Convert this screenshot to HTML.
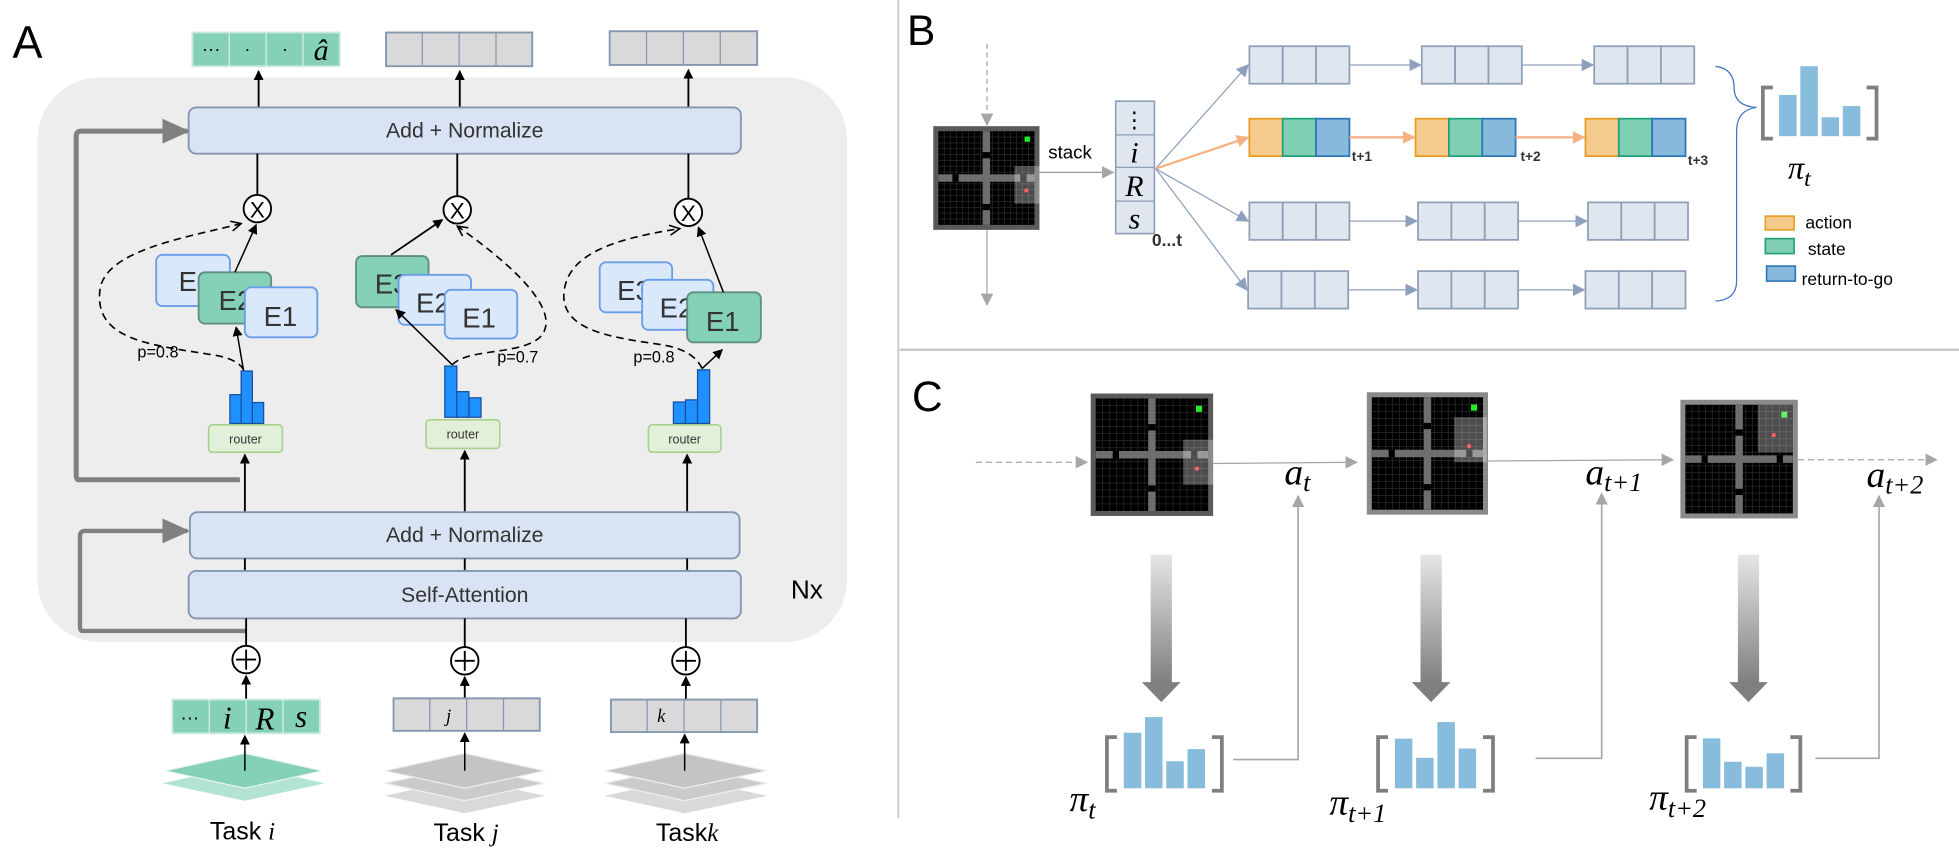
<!DOCTYPE html>
<html><head><meta charset="utf-8">
<style>
html,body{margin:0;padding:0;background:#fff;}
svg{display:block;}
text{font-family:"Liberation Sans","DejaVu Sans",sans-serif;}
.it{font-family:"Liberation Serif","DejaVu Serif",serif;font-style:italic;}
</style></head>
<body>
<svg id="fig" width="1959" height="857" viewBox="0 0 1568 686" preserveAspectRatio="none" xmlns="http://www.w3.org/2000/svg">
<defs>
<marker id="ab" markerWidth="8" markerHeight="8" refX="7" refY="4" orient="auto" markerUnits="userSpaceOnUse"><path d="M0,0 L8,4 L0,8 Z" fill="#000"/></marker>
<marker id="ao" markerWidth="10" markerHeight="10" refX="9" refY="5" orient="auto" markerUnits="userSpaceOnUse"><path d="M1,1 L9,5 L1,9" fill="none" stroke="#000" stroke-width="1.3"/></marker>
<marker id="ag" markerWidth="10" markerHeight="10" refX="9" refY="5" orient="auto" markerUnits="userSpaceOnUse"><path d="M0,0 L10,5 L0,10 Z" fill="#a6a6a6"/></marker>
<marker id="agb" markerWidth="22" markerHeight="20" refX="20" refY="10" orient="auto" markerUnits="userSpaceOnUse"><path d="M0,0 L22,10 L0,20 Z" fill="#808080"/></marker>
<marker id="abl" markerWidth="10" markerHeight="10" refX="9" refY="5" orient="auto" markerUnits="userSpaceOnUse"><path d="M0,0 L10,5 L0,10 Z" fill="#8ea0bd"/></marker>
<marker id="aor" markerWidth="10" markerHeight="10" refX="9" refY="5" orient="auto" markerUnits="userSpaceOnUse"><path d="M0,0 L10,5 L0,10 Z" fill="#f4b183"/></marker>
<linearGradient id="gd" x1="0" y1="0" x2="0" y2="1"><stop offset="0" stop-color="#e6e6e6"/><stop offset="1" stop-color="#7f7f7f"/></linearGradient>
</defs>

<line x1="719" y1="0" x2="719" y2="655" stroke="#c8c8c8" stroke-width="1.5"/>
<line x1="720" y1="280" x2="1568" y2="280" stroke="#c8c8c8" stroke-width="2"/>

<g>
<text x="10" y="46" font-size="36">A</text>
<rect x="30" y="62" width="648" height="452" rx="50" fill="#ededed"/>

<g>
<rect x="154" y="26" width="118" height="27" fill="#84d1b8" stroke="#c9e9de" stroke-width="1.5"/>
<line x1="183.5" y1="26" x2="183.5" y2="53" stroke="#d8f0e8"/><line x1="213" y1="26" x2="213" y2="53" stroke="#d8f0e8"/><line x1="242.5" y1="26" x2="242.5" y2="53" stroke="#d8f0e8"/>
<text x="169" y="44" font-size="15" text-anchor="middle">···</text>
<text x="198" y="44" font-size="15" text-anchor="middle">·</text>
<text x="228" y="44" font-size="15" text-anchor="middle">·</text>
<text x="257" y="48" font-size="24" text-anchor="middle" class="it">â</text>
</g>
<g>
<rect x="309" y="26" width="117" height="27" fill="#d9d9d9" stroke="#8497b0" stroke-width="1.5"/>
<line x1="338" y1="26" x2="338" y2="53" stroke="#8497b0"/><line x1="367.5" y1="26" x2="367.5" y2="53" stroke="#8497b0"/><line x1="397" y1="26" x2="397" y2="53" stroke="#8497b0"/>
</g>
<g>
<rect x="488" y="25" width="118" height="27" fill="#d9d9d9" stroke="#8497b0" stroke-width="1.5"/>
<line x1="517.5" y1="25" x2="517.5" y2="52" stroke="#8497b0"/><line x1="547" y1="25" x2="547" y2="52" stroke="#8497b0"/><line x1="576.5" y1="25" x2="576.5" y2="52" stroke="#8497b0"/>
</g>

<g stroke="#000" stroke-width="1.5" marker-end="url(#ab)">
<line x1="207" y1="86" x2="207" y2="57"/><line x1="368" y1="86" x2="368" y2="57"/><line x1="551" y1="86" x2="551" y2="56"/>
</g>

<rect x="151" y="86" width="442" height="37" rx="6" fill="#dae3f3" stroke="#8497b0" stroke-width="1.5"/>
<text x="372" y="110" font-size="17" text-anchor="middle" fill="#333">Add + Normalize</text>

<g stroke="#000" stroke-width="1.5">
<line x1="206" y1="123" x2="206" y2="156"/><line x1="366" y1="123" x2="366" y2="157"/><line x1="551" y1="123" x2="551" y2="159"/>
</g>

<path d="M192,384 L63,384 Q61,384 61,380 L61,109 Q61,105 65,105 L150,105" fill="none" stroke="#808080" stroke-width="4" marker-end="url(#agb)"/>
<path d="M197,505 L66,505 Q64,505 64,501 L64,429 Q64,425 68,425 L150,425" fill="none" stroke="#808080" stroke-width="3.5" marker-end="url(#agb)"/>

<g>
<rect x="125" y="204" width="59" height="41" rx="5" fill="#dae8fc" stroke="#6b9ee8" stroke-width="1.5"/>
<text x="143" y="233" font-size="22" fill="#333">E3</text>
<rect x="159" y="218" width="58" height="41" rx="5" fill="#84d1b8" stroke="#5f8f80" stroke-width="1.5"/>
<text x="175" y="248" font-size="22" fill="#333">E2</text>
<rect x="196" y="230" width="58" height="40" rx="5" fill="#dae8fc" stroke="#6b9ee8" stroke-width="1.5"/>
<text x="211" y="261" font-size="22" fill="#333">E1</text>
</g>
<g>
<rect x="285" y="205" width="58" height="41" rx="5" fill="#84d1b8" stroke="#5f8f80" stroke-width="1.5"/>
<text x="300" y="235" font-size="22" fill="#333">E3</text>
<rect x="319" y="220" width="58" height="40" rx="5" fill="#dae8fc" stroke="#6b9ee8" stroke-width="1.5"/>
<text x="333" y="250" font-size="22" fill="#333">E2</text>
<rect x="356" y="232" width="58" height="39" rx="5" fill="#dae8fc" stroke="#6b9ee8" stroke-width="1.5"/>
<text x="370" y="262" font-size="22" fill="#333">E1</text>
</g>
<g>
<rect x="480" y="210" width="58" height="40" rx="5" fill="#dae8fc" stroke="#6b9ee8" stroke-width="1.5"/>
<text x="494" y="240" font-size="22" fill="#333">E3</text>
<rect x="514" y="224" width="57" height="40" rx="5" fill="#dae8fc" stroke="#6b9ee8" stroke-width="1.5"/>
<text x="528" y="254" font-size="22" fill="#333">E2</text>
<rect x="550" y="234" width="59" height="40" rx="5" fill="#84d1b8" stroke="#5f8f80" stroke-width="1.5"/>
<text x="565" y="265" font-size="22" fill="#333">E1</text>
</g>

<g fill="#fff" stroke="#000" stroke-width="1.5">
<circle cx="206" cy="167" r="11"/><circle cx="366" cy="168" r="11"/><circle cx="551" cy="170" r="11"/>
</g>
<g font-size="18" text-anchor="middle"><text x="206" y="174">X</text><text x="366" y="175">X</text><text x="551" y="177">X</text></g>

<line x1="195" y1="297" x2="189" y2="262" stroke="#000" stroke-width="1.2" marker-end="url(#ab)"/>
<line x1="188" y1="218" x2="205" y2="180" stroke="#000" stroke-width="1.2" marker-end="url(#ab)"/>
<path d="M195,296 Q190,287 170,284 C120,276 75,272 80,232 C84,200 150,190 193,179" fill="none" stroke="#000" stroke-width="1.3" stroke-dasharray="6,4" marker-end="url(#ao)"/>
<text x="110" y="286" font-size="13">p=0.8</text>
<line x1="362" y1="292" x2="317" y2="248" stroke="#000" stroke-width="1.2" marker-end="url(#ab)"/>
<line x1="313" y1="204" x2="354" y2="176" stroke="#000" stroke-width="1.4" marker-end="url(#ab)"/>
<path d="M362,292 C375,278 420,285 434,268 C450,245 400,205 366,181" fill="none" stroke="#000" stroke-width="1.3" stroke-dasharray="6,4" marker-end="url(#ao)"/>
<text x="398" y="290" font-size="13">p=0.7</text>
<line x1="562" y1="295" x2="578" y2="280" stroke="#000" stroke-width="1.2" marker-end="url(#ab)"/>
<line x1="579" y1="234" x2="559" y2="182" stroke="#000" stroke-width="1.2" marker-end="url(#ab)"/>
<path d="M562,295 Q555,280 530,276 C490,270 445,265 452,230 C458,200 500,190 544,183" fill="none" stroke="#000" stroke-width="1.3" stroke-dasharray="6,4" marker-end="url(#ao)"/>
<text x="507" y="290" font-size="13">p=0.8</text>

<g id="routerHists"></g>

<g>
<rect x="167" y="340" width="59" height="22" rx="3" fill="#e2f0d9" stroke="#a9d18e" stroke-width="1.3"/>
<text x="196.5" y="355" font-size="10" text-anchor="middle" fill="#333">router</text>
<rect x="341" y="336" width="59" height="23" rx="3" fill="#e2f0d9" stroke="#a9d18e" stroke-width="1.3"/>
<text x="370.5" y="351" font-size="10" text-anchor="middle" fill="#333">router</text>
<rect x="519" y="340" width="58" height="22" rx="3" fill="#e2f0d9" stroke="#a9d18e" stroke-width="1.3"/>
<text x="548" y="355" font-size="10" text-anchor="middle" fill="#333">router</text>
</g>
<g stroke="#000" stroke-width="1.5" marker-end="url(#ab)">
<line x1="196" y1="410" x2="196" y2="364"/><line x1="372" y1="410" x2="372" y2="361"/><line x1="550" y1="410" x2="550" y2="364"/>
</g>

<rect x="152" y="410" width="440" height="37" rx="6" fill="#dae3f3" stroke="#8497b0" stroke-width="1.5"/>
<text x="372" y="434" font-size="17" text-anchor="middle" fill="#333">Add + Normalize</text>
<g stroke="#000" stroke-width="1.5"><line x1="196" y1="447" x2="196" y2="457"/><line x1="372" y1="447" x2="372" y2="457"/><line x1="550" y1="447" x2="550" y2="457"/></g>
<rect x="151" y="457" width="442" height="38" rx="6" fill="#dae3f3" stroke="#8497b0" stroke-width="1.5"/>
<text x="372" y="482" font-size="17" text-anchor="middle" fill="#333">Self-Attention</text>
<text x="633" y="479" font-size="21">Nx</text>

<g stroke="#000" stroke-width="1.5">
<line x1="197" y1="495" x2="197" y2="517"/><line x1="372" y1="495" x2="372" y2="518"/><line x1="549" y1="495" x2="549" y2="518"/>
</g>
<g fill="#fff" stroke="#000" stroke-width="1.5">
<circle cx="197" cy="528" r="11"/><circle cx="372" cy="529" r="11"/><circle cx="549" cy="529" r="11"/>
<path d="M189,528 H205 M197,520 V536 M364,529 H380 M372,521 V537 M541,529 H557 M549,521 V537"/>
</g>
<g stroke="#000" stroke-width="1.5" marker-end="url(#ab)">
<line x1="197" y1="560" x2="197" y2="541"/><line x1="372" y1="559" x2="372" y2="542"/><line x1="549" y1="560" x2="549" y2="542"/>
</g>

<g>
<rect x="138" y="560" width="118" height="27" fill="#84d1b8" stroke="#c9e9de" stroke-width="1.5"/>
<line x1="167.5" y1="560" x2="167.5" y2="587" stroke="#d8f0e8"/><line x1="197" y1="560" x2="197" y2="587" stroke="#d8f0e8"/><line x1="226.5" y1="560" x2="226.5" y2="587" stroke="#d8f0e8"/>
<text x="152" y="579" font-size="15" text-anchor="middle">···</text>
<text x="182" y="583" font-size="25" text-anchor="middle" class="it">i</text>
<text x="212" y="584" font-size="25" text-anchor="middle" class="it">R</text>
<text x="241" y="582" font-size="25" text-anchor="middle" class="it">s</text>
</g>
<g>
<rect x="315" y="559" width="117" height="26" fill="#d9d9d9" stroke="#8497b0" stroke-width="1.5"/>
<line x1="344" y1="559" x2="344" y2="585" stroke="#8497b0"/><line x1="373.5" y1="559" x2="373.5" y2="585" stroke="#8497b0"/><line x1="403" y1="559" x2="403" y2="585" stroke="#8497b0"/>
<text x="357" y="578" font-size="15" class="it">j</text>
</g>
<g>
<rect x="489" y="560" width="117" height="26" fill="#d9d9d9" stroke="#8497b0" stroke-width="1.5"/>
<line x1="518" y1="560" x2="518" y2="586" stroke="#8497b0"/><line x1="547.5" y1="560" x2="547.5" y2="586" stroke="#8497b0"/><line x1="577" y1="560" x2="577" y2="586" stroke="#8497b0"/>
<text x="526" y="578" font-size="15" class="it">k</text>
</g>

<g>
<path d="M130,627 L196,613 L260,627 L196,641 Z" fill="#9fdcc8" opacity="0.8"/>
<path d="M132,617 L196,603 L258,617 L196,631 Z" fill="#84d1b8" stroke="#e8f5f0"/>
</g>
<g>
<path d="M308,637 L372,623 L436,637 L372,651 Z" fill="#d0d0d0" opacity="0.8"/>
<path d="M308,627 L372,613 L436,627 L372,641 Z" fill="#cbcbcb" stroke="#eee"/>
<path d="M308,617 L372,603 L436,617 L372,631 Z" fill="#c4c4c4" stroke="#eee"/>
</g>
<g>
<path d="M484,637 L548,623 L614,637 L548,651 Z" fill="#d0d0d0" opacity="0.8"/>
<path d="M484,627 L548,613 L614,627 L548,641 Z" fill="#cbcbcb" stroke="#eee"/>
<path d="M484,617 L548,603 L614,617 L548,631 Z" fill="#c4c4c4" stroke="#eee"/>
</g>
<g stroke="#000" stroke-width="1.2" marker-end="url(#ab)">
<line x1="196" y1="617" x2="196" y2="589"/><line x1="372" y1="617" x2="372" y2="587"/><line x1="548" y1="617" x2="548" y2="588"/>
</g>
<text x="168" y="672" font-size="20">Task <tspan class="it">i</tspan></text>
<text x="347" y="673" font-size="20">Task <tspan class="it">j</tspan></text>
<text x="525" y="673" font-size="20">Task<tspan class="it">k</tspan></text>
</g>

<g>
<text x="726" y="36" font-size="34">B</text>
<line x1="790" y1="35" x2="790" y2="100" stroke="#a6a6a6" stroke-width="1" stroke-dasharray="4,3" marker-end="url(#ag)"/>
<line x1="790" y1="184" x2="790" y2="244" stroke="#a6a6a6" stroke-width="1" marker-end="url(#ag)"/>
<g id="mazeB"></g>
<text x="839" y="127" font-size="15">stack</text>
<line x1="832" y1="138" x2="891" y2="138" stroke="#a6a6a6" stroke-width="1.2" marker-end="url(#ag)"/>
<g>
<rect x="893" y="81" width="31" height="106" fill="#dfe6ef" stroke="#8e9fb8" stroke-width="1.3"/>
<line x1="893" y1="108" x2="924" y2="108" stroke="#8e9fb8"/><line x1="893" y1="134" x2="924" y2="134" stroke="#8e9fb8"/><line x1="893" y1="161" x2="924" y2="161" stroke="#8e9fb8"/>
<text x="908" y="102" font-size="18" text-anchor="middle">⋮</text>
<text x="908" y="130" font-size="24" text-anchor="middle" class="it">i</text>
<text x="908" y="157" font-size="24" text-anchor="middle" class="it">R</text>
<text x="908" y="183" font-size="24" text-anchor="middle" class="it">s</text>
</g>
<text x="922" y="197" font-size="14" font-weight="bold" fill="#333">0...t</text>
<g id="seqB"></g>
<g font-size="11" font-weight="bold" fill="#333">
<text x="1082" y="129">t+1</text><text x="1217" y="129">t+2</text><text x="1351" y="132">t+3</text>
</g>
<path d="M1373,53 Q1388,55 1388,70 Q1388,85 1406,86 Q1390,88 1390,105 L1390,225 Q1390,240 1373,241" fill="none" stroke="#4472c4" stroke-width="1"/>
<g id="histB"></g>
<text x="1431" y="143" font-size="26" class="it">π<tspan font-size="19" dy="6">t</tspan></text>
<g>
<rect x="1413" y="173" width="23" height="11" fill="#f5cb8d" stroke="#e69b21" stroke-width="1.3"/>
<text x="1445" y="183" font-size="14">action</text>
<rect x="1413" y="191" width="23" height="12" fill="#80cfb5" stroke="#1fa079" stroke-width="1.3"/>
<text x="1447" y="204" font-size="14">state</text>
<rect x="1414" y="213" width="23" height="12" fill="#87b9dc" stroke="#2f75b5" stroke-width="1.3"/>
<text x="1442" y="228" font-size="14">return-to-go</text>
</g>
</g>

<g>
<text x="730" y="329" font-size="34">C</text>
<line x1="781" y1="370" x2="870" y2="370" stroke="#a6a6a6" stroke-width="1" stroke-dasharray="5,3" marker-end="url(#ag)"/>
<line x1="971" y1="371" x2="1086" y2="370" stroke="#a6a6a6" stroke-width="1" marker-end="url(#ag)"/>
<line x1="1191" y1="369" x2="1339" y2="368" stroke="#a6a6a6" stroke-width="1" marker-end="url(#ag)"/>
<line x1="1439" y1="368" x2="1550" y2="368" stroke="#a6a6a6" stroke-width="1" stroke-dasharray="5,3" marker-end="url(#ag)"/>
<g id="mazeC"></g>
<text x="1028" y="388" font-size="30" class="it">a<tspan font-size="21" dy="5">t</tspan></text>
<text x="1269" y="388" font-size="30" class="it">a<tspan font-size="21" dy="5">t+1</tspan></text>
<text x="1494" y="390" font-size="30" class="it">a<tspan font-size="21" dy="5">t+2</tspan></text>
<g>
<g fill="url(#gd)">
<rect x="921" y="444" width="17" height="103"/><rect x="1137" y="444" width="17" height="103"/><rect x="1391" y="444" width="17" height="103"/>
</g>
<g fill="#7f7f7f">
<path d="M914,546 L945,546 L929.5,562 Z"/><path d="M1130,546 L1161,546 L1145.5,562 Z"/><path d="M1384,546 L1415,546 L1399.5,562 Z"/>
</g>
</g>
<g id="histC"></g>
<g fill="none" stroke="#a6a6a6" stroke-width="1.3">
<path d="M987,608 H1039 V397" marker-end="url(#ag)"/>
<path d="M1229,607 H1282 V395" marker-end="url(#ag)"/>
<path d="M1453,607 H1504 V397" marker-end="url(#ag)"/>
</g>
<text x="856" y="649" font-size="30" class="it">π<tspan font-size="21" dy="6">t</tspan></text>
<text x="1064" y="652" font-size="30" class="it">π<tspan font-size="21" dy="6">t+1</tspan></text>
<text x="1320" y="648" font-size="30" class="it">π<tspan font-size="21" dy="6">t+2</tspan></text>
</g>
</svg>
<script>
// ---- chart data ----
const routerCats = ['E1','E2','E3'];
const routerI = [0.55, 1.0, 0.4];
const routerJ = [1.0, 0.5, 0.38];
const routerK = [0.4, 0.44, 1.0];
const policyCats = ['a1','a2','a3','a4'];
const policyB = [0.59, 1.0, 0.27, 0.43];
const policyT = [0.78, 1.0, 0.38, 0.55];
const policyT1 = [0.75, 0.46, 1.0, 0.6];
const policyT2 = [1.0, 0.53, 0.43, 0.7];

const NS = 'http://www.w3.org/2000/svg';
function mk(tag, attrs, parent){ const e=document.createElementNS(NS,tag); for(const k in attrs) e.setAttribute(k,attrs[k]); parent.appendChild(e); return e; }

function routerHist(parent, vals, x0, base, w, hmax, name){
  const g=mk('g',{},parent);
  
  
  const bw=w/vals.length;
  vals.forEach((v,i)=>{
    const h=v*hmax;
    const r=mk('rect',{x:x0+i*bw,y:base-h,width:bw,height:h,fill:'#1e90ff',stroke:'#1a4f9c','stroke-width':1},g);
    
    
  });
}
const rh=document.getElementById('routerHists');
routerHist(rh, routerI, 184, 339, 27, 42, 'router-hist-task-i');
routerHist(rh, routerJ, 356, 334, 29, 41, 'router-hist-task-j');
routerHist(rh, routerK, 539, 339, 29, 43, 'router-hist-task-k');

function policyHist(parent, vals, xl, xr, top, btop, base, name, bw, gap){
  const g=mk('g',{},parent);
  
  
  mk('path',{d:'M'+(xl+8)+','+btop+' H'+xl+' V'+base+' H'+(xl+8),fill:'none',stroke:'#7f7f7f','stroke-width':3},g);
  mk('path',{d:'M'+(xr-8)+','+btop+' H'+xr+' V'+base+' H'+(xr-8),fill:'none',stroke:'#7f7f7f','stroke-width':3},g);
  const hmax=base-top-2;
  const total=vals.length*bw+(vals.length-1)*gap;
  const start=xl+(xr-xl-total)/2;
  vals.forEach((v,i)=>{
    const h=v*hmax;
    const r=mk('rect',{x:start+i*(bw+gap),y:base-2-h,width:bw,height:h,fill:'#87bcdc'},g);
    
    
  });
}
policyHist(document.getElementById('histB'), policyB, 1411, 1502, 53, 70, 111, 'policy-hist-b', 14, 3);
const hc=document.getElementById('histC');
policyHist(hc, policyT, 886, 978, 574, 590, 633, 'policy-hist-t', 14, 3);
policyHist(hc, policyT1, 1103, 1195, 578, 590, 633, 'policy-hist-t1', 14, 3);
policyHist(hc, policyT2, 1350, 1441, 591, 590, 633, 'policy-hist-t2', 14, 3);

function maze(parent, x, y, w, h, border, name, view){
  const g=mk('g',{},parent);
  
  
  mk('rect',{x:x,y:y,width:w,height:h,fill:border},g);
  const b=4;
  mk('rect',{x:x+b,y:y+b,width:w-2*b,height:h-2*b,fill:'#000'},g);
  let d='';
  const n=16;
  for(let i=1;i<n;i++){ const xx=x+b+i*(w-2*b)/n; d+='M'+xx+','+(y+b)+'V'+(y+h-b); const yy=y+b+i*(h-2*b)/n; d+='M'+(x+b)+','+yy+'H'+(x+w-b); }
  mk('path',{d:d,stroke:'#2a2a2a','stroke-width':0.6,fill:'none'},g);
  const cx=x+w*0.5, cy=y+h*0.5;
  mk('rect',{x:cx-3,y:y+b,width:6,height:h-2*b,fill:'#6e6e6e'},g);
  mk('rect',{x:x+b,y:cy-3,width:w-2*b,height:6,fill:'#6e6e6e'},g);
  mk('rect',{x:cx-3,y:y+h*0.25,width:6,height:5,fill:'#000'},g);
  mk('rect',{x:cx-3,y:y+h*0.75,width:6,height:5,fill:'#000'},g);
  mk('rect',{x:x+w*0.18,y:cy-3,width:5,height:6,fill:'#000'},g);
  mk('rect',{x:x+w*0.82,y:cy-3,width:5,height:6,fill:'#000'},g);
  mk('rect',{x:x+w*0.86,y:y+h*0.1,width:w*0.05,height:h*0.05,fill:'#22ee22'},g);
  mk('rect',{x:view[0],y:view[1],width:view[2],height:view[3],fill:'#fff',opacity:0.3},g);
  mk('rect',{x:view[0]+view[2]*0.4,y:view[1]+view[3]*0.6,width:3,height:3,fill:'#ff6060'},g);
}
maze(document.getElementById('mazeB'), 747, 101, 85, 83, '#5a5a5a', 'maze-b', [812,133,20,30]);
const mc=document.getElementById('mazeC');
maze(mc, 873, 315, 98, 98, '#5a5a5a', 'maze-c-t', [947,352,24,36]);
maze(mc, 1094, 314, 97, 98, '#8a8a8a', 'maze-c-t1', [1164,334,26,36]);
maze(mc, 1345, 320, 94, 95, '#8a8a8a', 'maze-c-t2', [1407,324,28,38]);

const seqRows=[
  {y:37,xs:[1000,1138,1276],color:false},
  {y:95,xs:[1000,1133,1269],color:true},
  {y:162,xs:[1000,1135,1271],color:false},
  {y:217,xs:[999,1135,1269],color:false}
];
const sb=document.getElementById('seqB');
seqRows.forEach((r,ri)=>{
  const g=mk('g',{},sb);
  
  
  const cw=26.7, h=30;
  mk('line',{x1:925,y1:135,x2:r.xs[0]-1,y2:r.y+h/2,stroke:r.color?'#f4b183':'#8ea0bd','stroke-width':r.color?1.8:1,'marker-end':r.color?'url(#aor)':'url(#abl)'},g);
  r.xs.forEach((x,ci)=>{
    const fills=r.color?['#f5cb8d','#80cfb5','#87b9dc']:['#dfe6ef','#dfe6ef','#dfe6ef'];
    const strokes=r.color?['#e69b21','#1fa079','#2f75b5']:['#8e9fb8','#8e9fb8','#8e9fb8'];
    for(let k=0;k<3;k++) mk('rect',{x:x+k*cw,y:r.y,width:cw,height:h,fill:fills[k],stroke:strokes[k],'stroke-width':1.4},g);
    if(ci<2){
      mk('line',{x1:x+3*cw,y1:r.y+h/2,x2:r.xs[ci+1]-1,y2:r.y+h/2,stroke:r.color?'#f4b183':'#8ea0bd','stroke-width':r.color?1.8:1,'marker-end':r.color?'url(#aor)':'url(#abl)'},g);
    }
  });
});
</script>
</body></html>
